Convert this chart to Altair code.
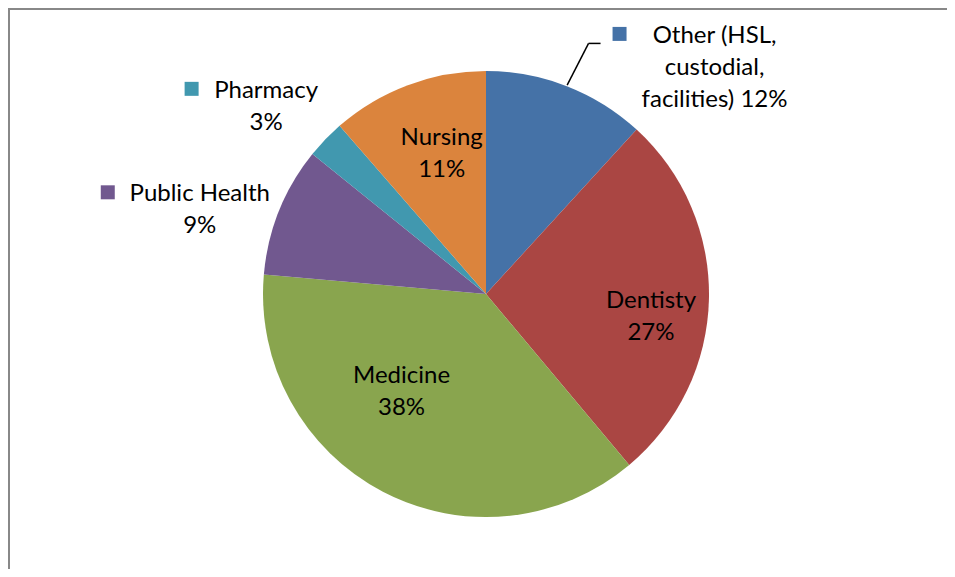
import altair as alt
import pandas as pd

# ---- data ----
categories = ["Other", "Dentisty", "Medicine", "Public Health", "Pharmacy", "Nursing"]
values = [11.8, 27.1, 37.5, 9.4, 2.8, 11.4]
label_texts = [
    "Other (HSL,\ncustodial,\nfacilities) 12%",
    "Dentisty\n27%",
    "Medicine\n38%",
    "Public Health\n9%",
    "Pharmacy\n3%",
    "Nursing\n11%",
]
colors = ["#4572A7", "#AA4643", "#89A54E", "#71588F", "#4198AF", "#DB843D"]

# ---- layout (styling only) ----
W, H = 939, 561
CX, CY, R = 478, 286, 223
FONT = "Lato"
# category: (label radius, dx, dy)
label_layout = {
    "Other": (330, 109, 57),
    "Dentisty": (160, 5, 10),
    "Medicine": (120, -29, -17),
    "Public Health": (300, -8, 19),
    "Pharmacy": (290, -11, 5),
    "Nursing": (155, 10, -4),
}
# legend-key squares beside the outside labels: offset from label anchor
key_layout = {
    "Other": (-95, -9.5),
    "Pharmacy": (-74.5, -9),
    "Public Health": (-92, -8.5),
}

df = pd.DataFrame({
    "category": categories,
    "value": values,
    "label": label_texts,
    "idx": list(range(len(categories))),
})
df["lr"] = [label_layout[c][0] for c in categories]
df["ldx"] = [label_layout[c][1] for c in categories]
df["ldy"] = [label_layout[c][2] for c in categories]
df["haskey"] = [c in key_layout for c in categories]
df["kdx"] = [key_layout.get(c, (0, 0))[0] for c in categories]
df["kdy"] = [key_layout.get(c, (0, 0))[1] for c in categories]

color_scale = alt.Scale(domain=categories, range=colors)

pie = alt.Chart(df).mark_arc(outerRadius=R).encode(
    theta=alt.Theta("value:Q", stack=True),
    color=alt.Color("category:N", scale=color_scale, legend=None),
    order=alt.Order("idx:Q"),
    x=alt.value(CX),
    y=alt.value(CY),
)

base = (
    alt.Chart(df)
    .transform_window(cum="sum(value)", sort=[alt.SortField("idx")], frame=[None, 0])
    .transform_joinaggregate(total="sum(value)")
    .transform_calculate(ang="2*PI*(datum.cum - datum.value/2)/datum.total")
    .transform_calculate(
        lx=f"{CX} + datum.lr*sin(datum.ang) + datum.ldx",
        ly=f"{CY} - datum.lr*cos(datum.ang) + datum.ldy",
    )
)

labels = base.mark_text(
    font=FONT, fontSize=24, lineBreak="\n", lineHeight=32,
    align="center", baseline="alphabetic", color="#000000",
).encode(
    x=alt.X("lx:Q", scale=None),
    y=alt.Y("ly:Q", scale=None),
    text="label:N",
)

keys = (
    base.transform_filter("datum.haskey")
    .transform_calculate(kx="datum.lx + datum.kdx", ky="datum.ly + datum.kdy")
    .mark_point(shape="square", size=196, filled=True, opacity=1)
    .encode(
        x=alt.X("kx:Q", scale=None),
        y=alt.Y("ky:Q", scale=None),
        color=alt.Color("category:N", scale=color_scale, legend=None),
    )
)

leader_base = (
    base.transform_filter("datum.category == 'Other'")
    .transform_calculate(
        ex=f"{CX} + {R + 1}*sin(datum.ang)",
        ey=f"{CY} - {R + 1}*cos(datum.ang)",
        bx="datum.lx + datum.kdx - 31",
        by="datum.ly + datum.kdy + 9.5",
    )
    .transform_calculate(cx2="datum.bx + 12")
)
leader1 = leader_base.mark_rule(color="#000000", strokeWidth=1.5).encode(
    x=alt.X("ex:Q", scale=None), y=alt.Y("ey:Q", scale=None),
    x2="bx:Q", y2="by:Q",
)
leader2 = leader_base.mark_rule(color="#000000", strokeWidth=1.5).encode(
    x=alt.X("bx:Q", scale=None), y=alt.Y("by:Q", scale=None),
    x2="cx2:Q", y2="by:Q",
)

frame_src = alt.Chart(pd.DataFrame({"f": [0]}))
top_border = frame_src.mark_rule(color="#888888", strokeWidth=2).encode(
    x=alt.value(0), x2=alt.value(W), y=alt.value(1)
)
left_border = frame_src.mark_rule(color="#888888", strokeWidth=2).encode(
    x=alt.value(1), y=alt.value(0), y2=alt.value(H)
)

chart = alt.layer(
    pie, leader1, leader2, keys, labels, top_border, left_border
).properties(
    width=W, height=H, autosize="none", padding=0
).configure_view(stroke=None, strokeWidth=0)

chart.save("out.html", embed_options={"renderer": "svg", "actions": False})
